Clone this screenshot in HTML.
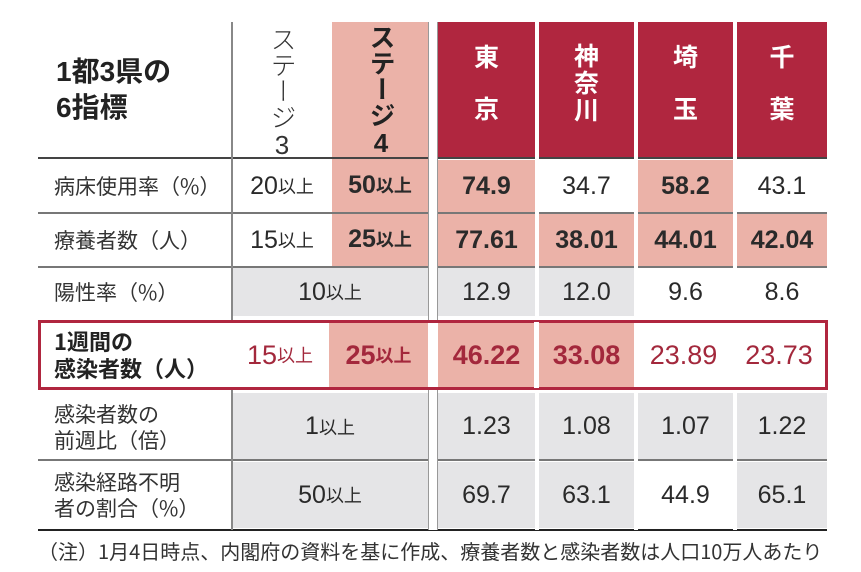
<!DOCTYPE html>
<html><head><meta charset="utf-8"><style>
*{margin:0;padding:0;box-sizing:border-box}
body{width:861px;height:572px;background:#fff;position:relative;overflow:hidden;font-family:"Liberation Sans","Noto Sans CJK JP",sans-serif;color:#2a2a2a}
.a{position:absolute}
.c{position:absolute;display:flex;align-items:center;justify-content:center;font-size:25px}
.b{font-weight:bold}
.pk{background:#ebb2a8}
.gy{background:#e5e5e7}
.rd{background:#b0263f}
.lbl{position:absolute;left:54px;font-size:21px;line-height:26px;color:#333;display:flex;flex-direction:column;justify-content:center;font-family:"Noto Sans CJK JP","Liberation Sans",sans-serif}
.hl{position:absolute;height:1.5px;background:#777}
.vt{writing-mode:vertical-rl;text-orientation:upright}
.ph{position:absolute;top:22px;height:135px;color:#fff;font-weight:bold;font-size:25px;display:flex;flex-direction:column;align-items:center;padding-top:16px;font-family:"Noto Sans CJK JP",sans-serif}
small{font-size:18px;font-weight:normal}
.b small{font-weight:bold}
</style></head><body>
<!-- header -->
<div class="a b" style="left:56px;top:54px;font-size:28px;line-height:36px;color:#222">1都3県の<br>6指標</div>
<div class="a vt" style="left:262px;top:26px;font-size:26px;line-height:40px;color:#333;font-weight:300">ステージ3</div>
<div class="a pk" style="left:332px;top:22px;width:96px;height:136px"></div>
<div class="a vt b" style="left:362px;top:24px;font-size:26px;line-height:38px;color:#222">ステージ4</div>
<div class="ph rd" style="left:438px;width:97px"><span>東</span><span style="margin-top:16px">京</span></div>
<div class="ph rd" style="left:539px;width:95px;padding-top:20px;line-height:27px"><span>神</span><span>奈</span><span>川</span></div>
<div class="ph rd" style="left:638px;width:95px"><span>埼</span><span style="margin-top:16px">玉</span></div>
<div class="ph rd" style="left:737px;width:90px"><span>千</span><span style="margin-top:16px">葉</span></div>

<!-- row1 -->
<div class="lbl" style="top:160px;height:52px">病床使用率（%）</div>
<div class="c" style="left:232px;top:160px;width:100px;height:52px">20<small>以上</small></div>
<div class="c pk b" style="left:332px;top:158px;width:96px;height:54px">50<small>以上</small></div>
<div class="c pk b" style="left:438px;top:160px;width:97px;height:52px">74.9</div>
<div class="c" style="left:539px;top:160px;width:95px;height:52px">34.7</div>
<div class="c pk b" style="left:638px;top:160px;width:95px;height:52px">58.2</div>
<div class="c" style="left:737px;top:160px;width:90px;height:52px">43.1</div>
<!-- row2 -->
<div class="lbl" style="top:214px;height:52px">療養者数（人）</div>
<div class="c" style="left:232px;top:214px;width:100px;height:52px">15<small>以上</small></div>
<div class="c pk b" style="left:332px;top:212px;width:96px;height:54px">25<small>以上</small></div>
<div class="c pk b" style="left:438px;top:214px;width:97px;height:52px">77.61</div>
<div class="c pk b" style="left:539px;top:214px;width:95px;height:52px">38.01</div>
<div class="c pk b" style="left:638px;top:214px;width:95px;height:52px">44.01</div>
<div class="c pk b" style="left:737px;top:214px;width:90px;height:52px">42.04</div>
<!-- row3 -->
<div class="lbl" style="top:268px;height:48px">陽性率（%）</div>
<div class="c gy" style="left:232px;top:268px;width:196px;height:48px">10<small>以上</small></div>
<div class="c gy" style="left:438px;top:268px;width:97px;height:48px">12.9</div>
<div class="c gy" style="left:539px;top:268px;width:95px;height:48px">12.0</div>
<div class="c" style="left:638px;top:268px;width:95px;height:48px">9.6</div>
<div class="c" style="left:737px;top:268px;width:90px;height:48px">8.6</div>
<!-- row4 highlight -->
<div class="lbl b" style="top:322px;height:66px;font-size:22px;line-height:27px;color:#222">1週間の<br>感染者数（人）</div>
<div class="c" style="left:232px;top:322px;width:96px;height:66px;color:#a3283c;font-size:27px">15<small>以上</small></div>
<div class="c pk b" style="left:329px;top:322px;width:99px;height:66px;color:#a3283c;font-size:27px">25<small>以上</small></div>
<div class="c pk b" style="left:438px;top:322px;width:97px;height:66px;color:#a3283c;font-size:27px">46.22</div>
<div class="c pk b" style="left:539px;top:322px;width:95px;height:66px;color:#a3283c;font-size:27px">33.08</div>
<div class="c" style="left:634px;top:322px;width:99px;height:66px;color:#a3283c;font-size:27px">23.89</div>
<div class="c" style="left:733px;top:322px;width:92px;height:66px;color:#a3283c;font-size:27px">23.73</div>
<div class="a" style="left:38px;top:320px;width:790px;height:70px;border:3px solid #b0263f"></div>
<!-- row5 -->
<div class="lbl" style="top:394px;height:66px">感染者数の<br>前週比（倍）</div>
<div class="c gy" style="left:232px;top:393px;width:196px;height:67px">1<small>以上</small></div>
<div class="c gy" style="left:438px;top:393px;width:97px;height:67px">1.23</div>
<div class="c gy" style="left:539px;top:393px;width:95px;height:67px">1.08</div>
<div class="c gy" style="left:638px;top:393px;width:95px;height:67px">1.07</div>
<div class="c gy" style="left:737px;top:393px;width:90px;height:67px">1.22</div>
<!-- row6 -->
<div class="lbl" style="top:462px;height:66px">感染経路不明<br>者の割合（%）</div>
<div class="c gy" style="left:232px;top:462px;width:196px;height:66px">50<small>以上</small></div>
<div class="c gy" style="left:438px;top:462px;width:97px;height:66px">69.7</div>
<div class="c gy" style="left:539px;top:462px;width:95px;height:66px">63.1</div>
<div class="c" style="left:638px;top:462px;width:95px;height:66px">44.9</div>
<div class="c gy" style="left:737px;top:462px;width:90px;height:66px">65.1</div>

<!-- lines -->
<div class="hl" style="left:38px;top:157px;width:789px;height:2px;background:#444"></div>
<div class="hl" style="left:38px;top:212px;width:789px"></div>
<div class="hl" style="left:38px;top:266px;width:789px"></div>
<div class="hl" style="left:38px;top:459px;width:789px"></div>
<div class="hl" style="left:38px;top:529px;width:789px;height:2px;background:#222"></div>
<div class="a" style="left:231px;top:22px;width:1.5px;height:298px;background:#888"></div>
<div class="a" style="left:231px;top:390px;width:1.5px;height:140px;background:#888"></div>
<div class="a" style="left:428px;top:22px;width:10px;height:298px;background:#fff;border-left:1.5px solid #999;border-right:1.5px solid #999"></div>
<div class="a" style="left:428px;top:390px;width:10px;height:140px;background:#fff;border-left:1.5px solid #999;border-right:1.5px solid #999"></div>
<div class="a" style="left:535px;top:22px;width:4px;height:298px;background:#fff"></div>
<div class="a" style="left:634px;top:22px;width:4px;height:298px;background:#fff"></div>
<div class="a" style="left:733px;top:22px;width:4px;height:298px;background:#fff"></div>
<div class="a" style="left:535px;top:390px;width:4px;height:140px;background:#fff"></div>
<div class="a" style="left:634px;top:390px;width:4px;height:140px;background:#fff"></div>
<div class="a" style="left:733px;top:390px;width:4px;height:140px;background:#fff"></div>
<div class="a" style="left:534px;top:322px;width:5px;height:66px;background:#fff"></div>

<div class="a" style="left:38px;top:536px;font-size:20px;color:#333;white-space:nowrap;font-family:'Noto Sans CJK JP','Liberation Sans',sans-serif">（注）1月4日時点、内閣府の資料を基に作成、療養者数と感染者数は人口10万人あたり</div>
</body></html>
